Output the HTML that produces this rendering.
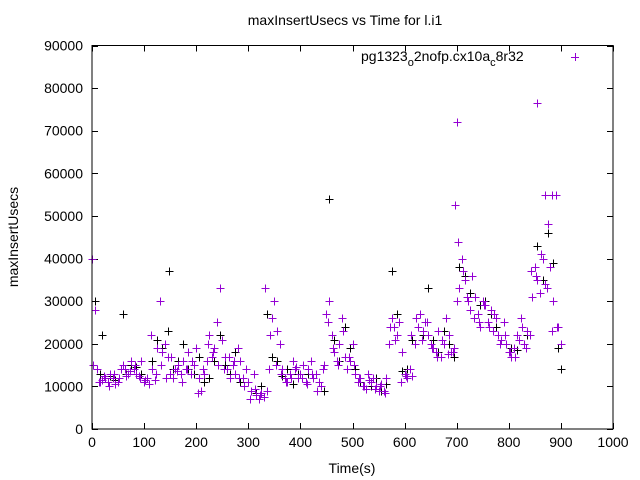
<!DOCTYPE html>
<html><head><meta charset="utf-8"><style>
body{margin:0;background:#fff}
svg{display:block;font-family:"Liberation Sans",sans-serif}
</style></head><body>
<svg id="chart" width="640" height="480">
<rect width="640" height="480" fill="#fff"/>
<text x="345" y="25" font-size="14" text-anchor="middle">maxInsertUsecs vs Time for l.i1</text>
<text x="352" y="473" font-size="14" text-anchor="middle">Time(s)</text>
<text transform="translate(18,237) rotate(-90)" font-size="14" text-anchor="middle">maxInsertUsecs</text>
<g id="axes" shape-rendering="crispEdges"></g>
<g id="marks" shape-rendering="crispEdges"></g>
<g>
<text x="361" y="61" font-size="14">pg1323<tspan dy="5" font-size="11">o</tspan><tspan dy="-5">2nofp.cx10a</tspan><tspan dy="5" font-size="11">c</tspan><tspan dy="-5">8r32</tspan></text>
<path d="M571,57.5h8M575.5,53v8" stroke="#9400d3" stroke-width="1" shape-rendering="crispEdges"/>
</g>
<rect x="92" y="45.5" width="521" height="383.5" fill="none" stroke="#000" shape-rendering="crispEdges"/>
</svg>
<script>
const xTicks=[0,100,200,300,400,500,600,700,800,900,1000];
const yTicks=[0,10000,20000,30000,40000,50000,60000,70000,80000,90000];
const purpleA=[40000,28000,14000,11000,11500,12000,11000,13000,12000,10500,
11000,14000,15000,12500,13000,16000,14000,13000,12500,16000,
11000,12000,10500,14000,11500,19000,30000,18000,20000,17000,
13000,12000,14000,15000,13000,16000,14000,18000,13000,15000,
19000,12000,9000,13000,16000,22000,17000,19000,25000,33000,
21000,17000,14000,12000,15000,13000,19000,16000,12000,14000,
11000,9000,13000,8000,7000,8500,7500,9000,14000,26000,
30000,23000,20000,14000,12000,11000,13000,16000,14000,12000,
13000,15000,11000,14000,16000,12000,13000,11000,10000,15000,
27000,30000,22000,18000,16000,20000,26000,17000,14000,16000,
20000,13000,11000,12000,10000,9500,13000,11000,12000,10000,
9000,10500,9000,12000,20000,26000,24000,22000,25000,18000,
13000,12000,14000,12500,20000,24000,27000,23000,25000,22000,
20000,19000,18000,23000,17000,20000,26000,22000,18000,19000,
30000,33000,40000,35000,31000,28000,36000,31000,27000,24000,
30000,29000,25000,28000,23000,26000,22000,21000,25000,20000,
18000,17000,19000,22000,21000,24000,20000,23000,22000,31000,
38000,35000,32000,40000,34000,48000,38000,30000,55000,24000,20000];
const purpleB=[15000,11000,12500,10000,13000,12000,14000,13500,15000,12000,
11500,22000,13000,15000,12000,17000,13500,11000,14000,16000,
8500,14000,20000,18000,15000,14000,17000,16000,12000,10000,
7000,9500,8000,33000,22000,15000,13000,11000,12000,14500,
12000,10500,13000,9000,14000,25000,19000,15000,23000,17000,
15000,12000,10000,11500,9500,10000,8500,24000,21000,11000,
12500,22000,26000,21000,25000,19000,17000,21000,17500,18000,
44000,37000,30000,26000,25000,29000,24000,27000,20000,22000,
18000,17000,26000,19000,37000,36000,41000,33000,23000,24000];
const blackA=[30000,13000,12000,12500,11500,14000,13000,15000,14500,13000,
12000,16000,21000,19000,23000,14000,16000,20000,14000,13000,
17000,11000,12000,16000,22000,15000,13000,18000,11000,14000,
9000,8500,10000,27000,17000,16000,12500,14000,10500,13000,
15000,13000,12000,11000,9000,54000,21000,16000,24000,19000,
14000,11000,9500,10000,12000,9000,10500,37000,27000,13500,
14000,21000,24000,22000,33000,21000,18000,23000,20000,17000,
38000,36000,32000,31000,29000,30000,27000,24000,21000,20000,
19000,18500,24000,22000,31000,43000,35000,46000,39000,19000];
const extraT=[700,855,697,870,882,148,20,60,900];
const extraV=[72000,76500,52500,55000,55000,37000,22000,27000,14000];
const X0=92,X1=613,Y0=429,Y1=45.5;
const sx=t=>X0+(X1-X0)*t/1000, sy=v=>Y0-(Y0-Y1)*v/90000;
const NS='http://www.w3.org/2000/svg';
const axes=document.getElementById('axes'), marks=document.getElementById('marks');
xTicks.forEach(t=>{const x=Math.round(sx(t))+0.5;
 const p=document.createElementNS(NS,'path');p.setAttribute('d',`M${x},${Y0}v-6M${x},${Y1}v6`);p.setAttribute('stroke','#000');
 
 axes.appendChild(p);
 const l=document.createElementNS(NS,'text');l.setAttribute('x',sx(t));l.setAttribute('y',447);l.setAttribute('font-size','14');l.setAttribute('text-anchor','middle');l.textContent=t;
 
 axes.appendChild(l);});
yTicks.forEach(v=>{const y=Math.round(sy(v))+0.5;
 const p=document.createElementNS(NS,'path');p.setAttribute('d',`M${X0},${y}h6M${X1},${y}h-6`);p.setAttribute('stroke','#000');
 
 axes.appendChild(p);
 const l=document.createElementNS(NS,'text');l.setAttribute('x',83);l.setAttribute('y',sy(v)+5);l.setAttribute('font-size','14');l.setAttribute('text-anchor','end');l.textContent=v;
 
 axes.appendChild(l);});
function plus(t,v,c){const x=Math.round(sx(t))+0.5,y=Math.round(sy(v))+0.5;const p=document.createElementNS(NS,'path');
 p.setAttribute('d',`M${x-4},${y}h8M${x},${y-4}v8`);p.setAttribute('stroke',c);
 
 marks.appendChild(p);}
blackA.forEach((v,i)=>plus(5+10*i,v,'#000'));
purpleA.forEach((v,i)=>plus(5*i,v,'#9400d3'));
purpleB.forEach((v,i)=>plus(2.5+10*i,v,'#9400d3'));
extraT.forEach((t,i)=>plus(t,extraV[i],i>=5?'#000':'#9400d3'));
</script>
</body></html>
